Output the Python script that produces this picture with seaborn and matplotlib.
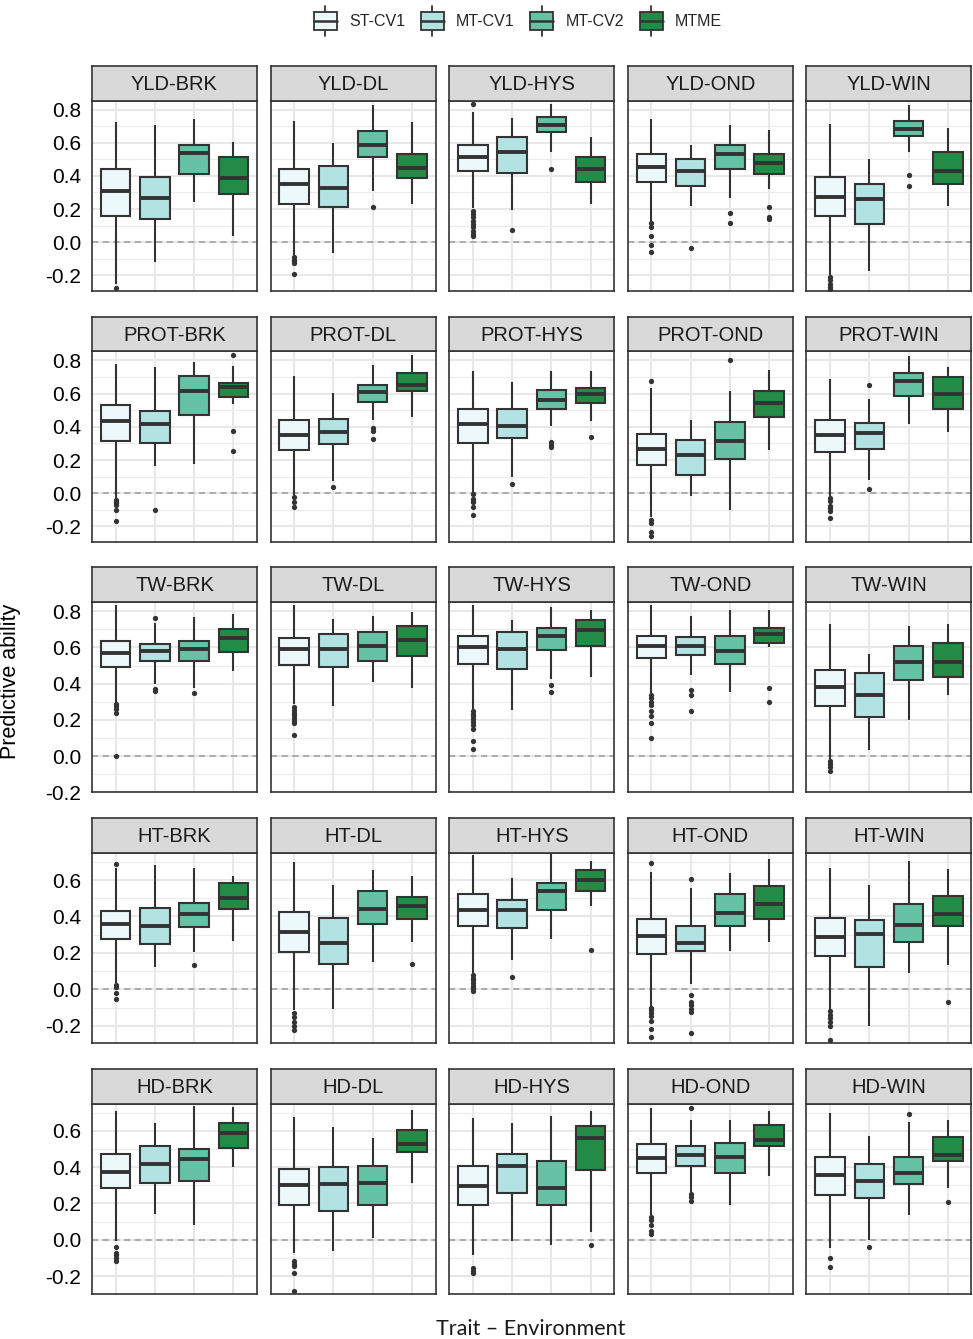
import numpy as np
import pandas as pd
import matplotlib
matplotlib.use("Agg")
import matplotlib.pyplot as plt
import seaborn as sns
from matplotlib.patches import Patch, Rectangle
from matplotlib.lines import Line2D
from matplotlib.legend_handler import HandlerBase
from matplotlib.ticker import MultipleLocator

# ---------------- data ----------------
traits = ["YLD", "PROT", "TW", "HT", "HD"]
envs = ["BRK", "DL", "HYS", "OND", "WIN"]
methods = ["ST-CV1", "MT-CV1", "MT-CV2", "MTME"]
colors = ["#edf8fb", "#b2e2e2", "#66c2a4", "#238b45"]

# five-number summaries per panel, values for [ST-CV1, MT-CV1, MT-CV2, MTME]
lower_whisker = {
    "YLD-BRK": [-0.25, -0.12, 0.24, 0.04],
    "YLD-DL": [-0.075, -0.065, 0.311, 0.230],
    "YLD-HYS": [0.204, 0.194, 0.543, 0.230],
    "YLD-OND": [0.123, 0.220, 0.269, 0.321],
    "YLD-WIN": [-0.20, -0.174, 0.543, 0.220],
    "PROT-BRK": [-0.034, 0.162, 0.174, 0.535],
    "PROT-DL": [-0.010, 0.071, 0.444, 0.457],
    "PROT-HYS": [0.0, 0.097, 0.406, 0.436],
    "PROT-OND": [-0.145, -0.018, -0.101, 0.259],
    "PROT-WIN": [-0.014, 0.077, 0.414, 0.370],
    "TW-BRK": [0.295, 0.396, 0.378, 0.470],
    "TW-DL": [0.286, 0.277, 0.409, 0.378],
    "TW-HYS": [0.259, 0.253, 0.424, 0.437],
    "TW-OND": [0.350, 0.451, 0.354, 0.604],
    "TW-WIN": [-0.017, 0.035, 0.200, 0.336],
    "HT-BRK": [0.033, 0.124, 0.207, 0.265],
    "HT-DL": [-0.113, -0.110, 0.148, 0.258],
    "HT-HYS": [0.088, 0.161, 0.276, 0.459],
    "HT-OND": [-0.095, 0.027, 0.210, 0.258],
    "HT-WIN": [-0.113, -0.199, 0.091, 0.134],
    "HD-BRK": [-0.009, 0.143, 0.082, 0.402],
    "HD-DL": [-0.070, -0.059, 0.009, 0.315],
    "HD-HYS": [-0.082, -0.009, -0.031, 0.042],
    "HD-OND": [0.137, 0.265, 0.192, 0.351],
    "HD-WIN": [-0.046, 0.0, 0.134, 0.284],
}
quartile1 = {
    "YLD-BRK": [0.158, 0.137, 0.412, 0.293],
    "YLD-DL": [0.230, 0.210, 0.513, 0.386],
    "YLD-HYS": [0.432, 0.420, 0.663, 0.366],
    "YLD-OND": [0.366, 0.339, 0.440, 0.412],
    "YLD-WIN": [0.158, 0.109, 0.642, 0.349],
    "PROT-BRK": [0.313, 0.305, 0.469, 0.578],
    "PROT-DL": [0.259, 0.295, 0.552, 0.616],
    "PROT-HYS": [0.305, 0.333, 0.507, 0.541],
    "PROT-OND": [0.168, 0.111, 0.208, 0.457],
    "PROT-WIN": [0.248, 0.269, 0.588, 0.505],
    "TW-BRK": [0.492, 0.525, 0.525, 0.576],
    "TW-DL": [0.501, 0.492, 0.525, 0.552],
    "TW-HYS": [0.510, 0.484, 0.585, 0.611],
    "TW-OND": [0.543, 0.558, 0.510, 0.626],
    "TW-WIN": [0.277, 0.218, 0.420, 0.437],
    "HT-BRK": [0.274, 0.249, 0.340, 0.441],
    "HT-DL": [0.207, 0.139, 0.357, 0.384],
    "HT-HYS": [0.349, 0.335, 0.435, 0.541],
    "HT-OND": [0.192, 0.210, 0.349, 0.384],
    "HT-WIN": [0.183, 0.124, 0.258, 0.349],
    "HD-BRK": [0.284, 0.315, 0.324, 0.507],
    "HD-DL": [0.190, 0.159, 0.190, 0.481],
    "HD-HYS": [0.190, 0.260, 0.190, 0.384],
    "HD-OND": [0.366, 0.408, 0.366, 0.516],
    "HD-WIN": [0.247, 0.232, 0.307, 0.434],
}
median = {
    "YLD-BRK": [0.311, 0.269, 0.541, 0.386],
    "YLD-DL": [0.349, 0.329, 0.588, 0.448],
    "YLD-HYS": [0.513, 0.543, 0.709, 0.442],
    "YLD-OND": [0.451, 0.432, 0.533, 0.477],
    "YLD-WIN": [0.275, 0.259, 0.683, 0.432],
    "PROT-BRK": [0.434, 0.414, 0.616, 0.642],
    "PROT-DL": [0.349, 0.370, 0.612, 0.653],
    "PROT-HYS": [0.414, 0.404, 0.562, 0.598],
    "PROT-OND": [0.269, 0.228, 0.313, 0.541],
    "PROT-WIN": [0.349, 0.360, 0.673, 0.596],
    "TW-BRK": [0.567, 0.580, 0.593, 0.653],
    "TW-DL": [0.594, 0.593, 0.607, 0.639],
    "TW-HYS": [0.604, 0.593, 0.662, 0.695],
    "TW-OND": [0.611, 0.611, 0.580, 0.672],
    "TW-WIN": [0.383, 0.336, 0.519, 0.519],
    "HT-BRK": [0.359, 0.349, 0.413, 0.499],
    "HT-DL": [0.316, 0.252, 0.441, 0.459],
    "HT-HYS": [0.435, 0.435, 0.541, 0.600],
    "HT-OND": [0.293, 0.252, 0.417, 0.468],
    "HT-WIN": [0.285, 0.302, 0.353, 0.412],
    "HD-BRK": [0.375, 0.417, 0.443, 0.585],
    "HD-DL": [0.302, 0.307, 0.315, 0.527],
    "HD-HYS": [0.298, 0.406, 0.287, 0.558],
    "HD-OND": [0.452, 0.466, 0.457, 0.549],
    "HD-WIN": [0.357, 0.326, 0.366, 0.466],
}
quartile3 = {
    "YLD-BRK": [0.442, 0.392, 0.586, 0.513],
    "YLD-DL": [0.442, 0.457, 0.671, 0.531],
    "YLD-HYS": [0.588, 0.632, 0.754, 0.513],
    "YLD-OND": [0.531, 0.503, 0.588, 0.531],
    "YLD-WIN": [0.396, 0.349, 0.733, 0.543],
    "PROT-BRK": [0.531, 0.497, 0.707, 0.663],
    "PROT-DL": [0.444, 0.448, 0.650, 0.727],
    "PROT-HYS": [0.505, 0.505, 0.622, 0.632],
    "PROT-OND": [0.356, 0.319, 0.430, 0.616],
    "PROT-WIN": [0.444, 0.420, 0.727, 0.697],
    "TW-BRK": [0.635, 0.617, 0.635, 0.703],
    "TW-DL": [0.650, 0.675, 0.684, 0.717],
    "TW-HYS": [0.666, 0.684, 0.710, 0.749],
    "TW-OND": [0.666, 0.659, 0.666, 0.708],
    "TW-WIN": [0.475, 0.457, 0.607, 0.626],
    "HT-BRK": [0.432, 0.448, 0.472, 0.582],
    "HT-DL": [0.426, 0.390, 0.541, 0.505],
    "HT-HYS": [0.523, 0.490, 0.582, 0.655],
    "HT-OND": [0.384, 0.349, 0.523, 0.567],
    "HT-WIN": [0.393, 0.380, 0.466, 0.514],
    "HD-BRK": [0.472, 0.516, 0.498, 0.640],
    "HD-DL": [0.391, 0.399, 0.406, 0.604],
    "HD-HYS": [0.406, 0.472, 0.435, 0.626],
    "HD-OND": [0.525, 0.516, 0.534, 0.631],
    "HD-WIN": [0.457, 0.415, 0.457, 0.567],
}
upper_whisker = {
    "YLD-BRK": [0.723, 0.705, 0.743, 0.604],
    "YLD-DL": [0.733, 0.598, 0.826, 0.725],
    "YLD-HYS": [0.786, 0.749, 0.836, 0.632],
    "YLD-OND": [0.743, 0.586, 0.707, 0.679],
    "YLD-WIN": [0.715, 0.503, 0.826, 0.689],
    "PROT-BRK": [0.780, 0.760, 0.790, 0.768],
    "PROT-DL": [0.707, 0.602, 0.770, 0.834],
    "PROT-HYS": [0.739, 0.669, 0.739, 0.739],
    "PROT-OND": [0.632, 0.440, 0.616, 0.743],
    "PROT-WIN": [0.689, 0.568, 0.824, 0.760],
    "TW-BRK": [0.837, 0.736, 0.767, 0.785],
    "TW-DL": [0.837, 0.758, 0.776, 0.794],
    "TW-HYS": [0.837, 0.749, 0.824, 0.809],
    "TW-OND": [0.837, 0.776, 0.809, 0.809],
    "TW-WIN": [0.732, 0.565, 0.717, 0.727],
    "HT-BRK": [0.664, 0.682, 0.664, 0.622],
    "HT-DL": [0.701, 0.573, 0.655, 0.622],
    "HT-HYS": [0.737, 0.613, 0.741, 0.706],
    "HT-OND": [0.646, 0.558, 0.640, 0.715],
    "HT-WIN": [0.664, 0.573, 0.706, 0.659],
    "HD-BRK": [0.708, 0.640, 0.737, 0.732],
    "HD-DL": [0.673, 0.622, 0.558, 0.713],
    "HD-HYS": [0.671, 0.640, 0.680, 0.708],
    "HD-OND": [0.723, 0.659, 0.659, 0.708],
    "HD-WIN": [0.699, 0.573, 0.649, 0.659],
}
# outlying points per panel: [ST-CV1], [MT-CV1], [MT-CV2], [MTME]
outliers = {
    "YLD-BRK": [[-0.275], [], [], []],
    "YLD-DL": [[-0.09, -0.105, -0.115, -0.125, -0.195], [], [0.21], []],
    "YLD-HYS": [[0.836, 0.19, 0.17, 0.15, 0.13, 0.11, 0.09, 0.07, 0.05, 0.035], [0.073], [0.44], []],
    "YLD-OND": [[0.113, 0.093, 0.036, -0.018, -0.059], [-0.038], [0.174, 0.117], [0.21, 0.149, 0.137]],
    "YLD-WIN": [[-0.21, -0.23, -0.25, -0.27, -0.285], [], [0.404, 0.339], []],
    "PROT-BRK": [[-0.04, -0.05, -0.06, -0.07, -0.10, -0.165], [-0.101], [], [0.834, 0.376, 0.255]],
    "PROT-DL": [[-0.024, -0.055, -0.085], [0.036], [0.390, 0.376, 0.329], []],
    "PROT-HYS": [[-0.004, -0.034, -0.045, -0.055, -0.081, -0.129], [0.057], [0.309, 0.293, 0.279], [0.339]],
    "PROT-OND": [[0.677, -0.16, -0.182, -0.232, -0.257], [], [0.800], []],
    "PROT-WIN": [[-0.028, -0.048, -0.075, -0.09, -0.105, -0.149], [0.653, 0.026], [], []],
    "TW-BRK": [[0.286, 0.277, 0.259, 0.240, 0.0], [0.760, 0.369, 0.360], [0.350], []],
    "TW-DL": [[0.27, 0.255, 0.24, 0.225, 0.21, 0.195, 0.185, 0.115], [], [], []],
    "TW-HYS": [[0.25, 0.235, 0.22, 0.205, 0.19, 0.17, 0.15, 0.085, 0.04], [], [0.393, 0.356], []],
    "TW-OND": [[0.34, 0.32, 0.30, 0.28, 0.25, 0.22, 0.185, 0.10], [0.363, 0.336, 0.250], [], [0.374, 0.299]],
    "TW-WIN": [[-0.026, -0.044, -0.062, -0.081], [], [], []],
    "HT-BRK": [[0.688, 0.024, 0.015, -0.018, -0.055], [], [0.134], []],
    "HT-DL": [[-0.132, -0.150, -0.177, -0.201, -0.223], [], [], [0.139]],
    "HT-HYS": [[0.08, 0.065, 0.05, 0.035, 0.02, 0.005, -0.01], [0.066], [], [0.216]],
    "HT-OND": [[0.691, -0.1, -0.115, -0.13, -0.145, -0.175, -0.218, -0.26],
               [0.605, -0.031, -0.071, -0.086, -0.108, -0.126, -0.241], [], []],
    "HT-WIN": [[-0.12, -0.14, -0.16, -0.18, -0.20, -0.28], [], [], [-0.068]],
    "HD-BRK": [[-0.037, -0.07, -0.082, -0.1, -0.119], [], [], []],
    "HD-DL": [[-0.119, -0.132, -0.146, -0.183, -0.284], [], [], []],
    "HD-HYS": [[-0.155, -0.17, -0.183], [], [], [-0.027]],
    "HD-OND": [[0.128, 0.110, 0.082, 0.051, 0.033], [0.726, 0.252, 0.234, 0.216], [], []],
    "HD-WIN": [[-0.101, -0.152], [-0.042], [0.690], [0.207]],
}
row_ylims = [(-0.295, 0.855), (-0.292, 0.855), (-0.2, 0.851), (-0.296, 0.75), (-0.298, 0.75)]
row_yticks = [[-0.2, 0.0, 0.2, 0.4, 0.6, 0.8]] * 3 + [[-0.2, 0.0, 0.2, 0.4, 0.6]] * 2

# ---------------- long tables ----------------
box_rows, out_rows = [], []
for t in traits:
    for e in envs:
        p = f"{t}-{e}"
        for i, m in enumerate(methods):
            for stat in (lower_whisker, quartile1, median, quartile3, upper_whisker):
                box_rows.append((p, m, stat[p][i]))
            for v in outliers[p][i]:
                out_rows.append((p, m, v))
box_df = pd.DataFrame(box_rows, columns=["panel", "method", "value"])
out_df = pd.DataFrame(out_rows, columns=["panel", "method", "value"])

# ---------------- styling ----------------
sns.set_style("white")
plt.rcParams["font.family"] = ["Liberation Sans", "DejaVu Sans"]
plt.rcParams["axes.unicode_minus"] = False

W, H = 973, 1339
fig = plt.figure(figsize=(W / 100, H / 100), dpi=100)
palette = dict(zip(methods, colors))
edge = "#333333"


class BoxKey(HandlerBase):
    def create_artists(self, legend, orig_handle, xdescent, ydescent,
                       width, height, fontsize, trans):
        x0, y0 = -xdescent, -ydescent
        fc = orig_handle.get_facecolor()
        by, bh = y0 + height * 0.2, height * 0.6
        cx = x0 + width / 2
        arts = [
            Line2D([cx, cx], [y0, by], color=edge, lw=1.3, transform=trans),
            Line2D([cx, cx], [by + bh, y0 + height], color=edge, lw=1.3, transform=trans),
            Rectangle((x0, by), width, bh, facecolor=fc, edgecolor=edge, lw=1.3, transform=trans),
            Line2D([x0, x0 + width], [by + bh / 2] * 2, color=edge, lw=1.8, transform=trans),
        ]
        return arts


col_left0, col_step, col_w = 92, 178.6, 165
row_top0, row_step = 66, 250.75
strip_h, panel_h = 34.5, 190.5

for r, t in enumerate(traits):
    top = row_top0 + r * row_step
    for c, e in enumerate(envs):
        p = f"{t}-{e}"
        left = col_left0 + c * col_step
        ax = fig.add_axes([left / W, 1 - (top + strip_h + panel_h) / H, col_w / W, panel_h / H])
        sax = fig.add_axes([left / W, 1 - (top + strip_h) / H, col_w / W, strip_h / H])

        ax.axhline(0, color="#9a9a9a", lw=1.1, ls=(0, (4, 3)), zorder=1)
        sns.boxplot(data=box_df[box_df.panel == p], x="method", y="value", hue="method",
                    order=methods, hue_order=methods, palette=palette, whis=(0, 100),
                    width=0.75, linewidth=1.5, linecolor=edge, saturation=1,
                    showfliers=False, showcaps=False, dodge=False, legend=False,
                    medianprops=dict(linewidth=2.8, color=edge), ax=ax, zorder=2)
        od = out_df[out_df.panel == p]
        if len(od):
            sns.stripplot(data=od, x="method", y="value", order=methods, jitter=False,
                          color=edge, size=3.8, linewidth=0, ax=ax, zorder=3)

        ax.set_xlim(-0.6, 3.6)
        ax.set_ylim(*row_ylims[r])
        ax.set_xlabel("")
        ax.set_ylabel("")
        ax.set_xticks(range(4))
        ax.set_xticklabels([])
        ticks = row_yticks[r]
        ax.set_yticks(ticks)
        ax.yaxis.set_minor_locator(MultipleLocator(0.1))
        ax.set_axisbelow(True)
        ax.grid(which="major", axis="both", color="#e8e8e8", lw=1.5)
        ax.grid(which="minor", axis="y", color="#ececec", lw=0.8)
        ax.tick_params(axis="x", length=3.6, width=1.1, color=edge)
        ax.tick_params(which="minor", length=0)
        if c == 0:
            ax.set_yticklabels([f"{v:.1f}" for v in ticks], fontsize=15, color="black")
            ax.tick_params(axis="y", length=3.6, width=1.1, color=edge, pad=4)
        else:
            ax.set_yticklabels([])
            ax.tick_params(axis="y", length=0)
        for s in ax.spines.values():
            s.set_color(edge)
            s.set_linewidth(1.2)

        sax.set_facecolor("#d9d9d9")
        sax.set_xticks([])
        sax.set_yticks([])
        for s in sax.spines.values():
            s.set_color(edge)
            s.set_linewidth(1.2)
        sax.text(0.5, 0.47, p, ha="center", va="center", fontsize=14.5, color="#1a1a1a",
                 transform=sax.transAxes)

fig.text(11 / W, 1 - 681 / H, "Predictive ability", rotation=90, ha="center", va="center",
         fontsize=15.5, color="black")
fig.text(531 / W, 1 - 1329 / H, "Trait \u2013 Environment", ha="center", va="center",
         fontsize=15.5, color="#1a1a1a", family=["Lato", "DejaVu Sans"])

handles = [Patch(facecolor=col) for col in colors]
fs = 11.5
fig.legend(handles, methods, loc="center", bbox_to_anchor=(518 / W, 1 - 21 / H), ncol=4,
           frameon=False, fontsize=fs, handler_map={Patch: BoxKey()},
           handlelength=23 / (fs * 100 / 72), handleheight=40 / (fs * 100 / 72),
           handletextpad=0.75, columnspacing=1.0, borderpad=0, borderaxespad=0)

fig.savefig("out.png", dpi=100)
